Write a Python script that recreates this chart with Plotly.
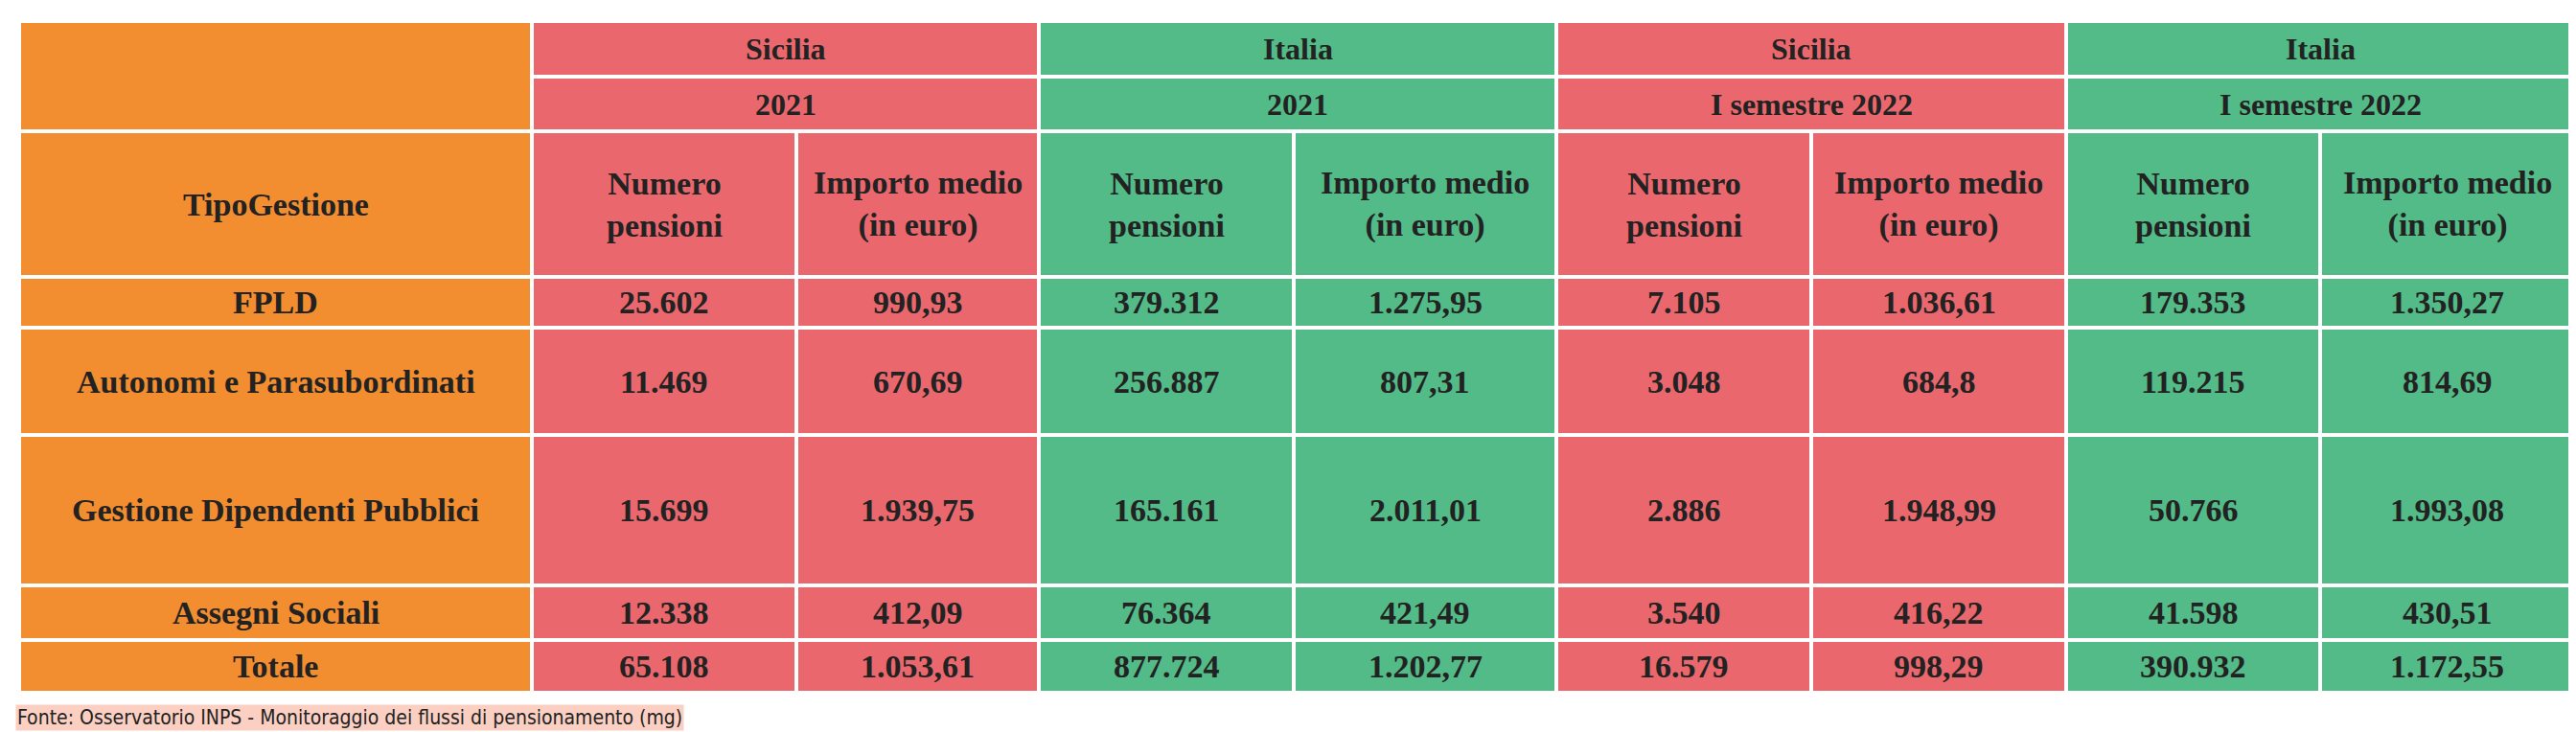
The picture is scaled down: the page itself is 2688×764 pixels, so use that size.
import plotly.graph_objects as go

categorie = ["FPLD", "Autonomi e Parasubordinati", "Gestione Dipendenti Pubblici", "Assegni Sociali", "Totale"]
aree = ["Sicilia", "Italia", "Sicilia", "Italia"]
periodi = ["2021", "2021", "I semestre 2022", "I semestre 2022"]
misure = ["Numero<br>pensioni", "Importo medio<br>(in euro)"]
sicilia_2021 = [["25.602", "990,93"], ["11.469", "670,69"], ["15.699", "1.939,75"], ["12.338", "412,09"], ["65.108", "1.053,61"]]
italia_2021 = [["379.312", "1.275,95"], ["256.887", "807,31"], ["165.161", "2.011,01"], ["76.364", "421,49"], ["877.724", "1.202,77"]]
sicilia_2022 = [["7.105", "1.036,61"], ["3.048", "684,8"], ["2.886", "1.948,99"], ["3.540", "416,22"], ["16.579", "998,29"]]
italia_2022 = [["179.353", "1.350,27"], ["119.215", "814,69"], ["50.766", "1.993,08"], ["41.598", "430,51"], ["390.932", "1.172,55"]]
fonte = "Fonte: Osservatorio INPS - Monitoraggio dei flussi di pensionamento (mg)"

# layout (pixels)
col_x = [12, 547, 823, 1076, 1342, 1616, 1882, 2148, 2413, 2678]
row_y = [14, 72, 129, 281, 334, 446, 603, 660, 715]
ORANGE, RED, GREEN = "#F28D30", "#EA686D", "#53BB87"
FONT = "Liberation Serif"

fig = go.Figure()
fig.add_trace(go.Scatter(x=[0, 2688], y=[0, 764], mode="markers", marker=dict(opacity=0), hoverinfo="skip"))

def cell(x0, x1, y0, y1, color, text, size=34):
    fig.add_shape(type="rect", x0=x0, x1=x1, y0=y0, y1=y1, fillcolor=color,
                  line=dict(color="white", width=4), layer="below")
    fig.add_annotation(x=(x0 + x1) / 2, y=(y0 + y1) / 2, text="<b>" + text + "</b>", showarrow=False,
                       font=dict(family=FONT, size=size, color="#222222"), xanchor="center", yanchor="middle")

cell(col_x[0], col_x[1], row_y[0], row_y[2], ORANGE, "")
cell(col_x[0], col_x[1], row_y[2], row_y[3], ORANGE, "TipoGestione")
dati = [sicilia_2021, italia_2021, sicilia_2022, italia_2022]
for g in range(4):
    c = RED if aree[g] == "Sicilia" else GREEN
    xa, xb, xc = col_x[1 + 2 * g], col_x[2 + 2 * g], col_x[3 + 2 * g]
    cell(xa, xc, row_y[0], row_y[1], c, aree[g], 32)
    cell(xa, xc, row_y[1], row_y[2], c, periodi[g], 32)
    cell(xa, xb, row_y[2], row_y[3], c, misure[0])
    cell(xb, xc, row_y[2], row_y[3], c, misure[1])
    for r in range(len(categorie)):
        cell(xa, xb, row_y[3 + r], row_y[4 + r], c, dati[g][r][0])
        cell(xb, xc, row_y[3 + r], row_y[4 + r], c, dati[g][r][1])
for r, cat in enumerate(categorie):
    cell(col_x[0], col_x[1], row_y[3 + r], row_y[4 + r], ORANGE, cat)

fig.add_annotation(x=8, y=741, text=fonte, showarrow=False, xanchor="left", yanchor="middle",
                   font=dict(family="DejaVu Sans Condensed", size=21, color="#222222"), bgcolor="#FBD0C2")

fig.update_xaxes(range=[0, 2688], visible=False, fixedrange=True)
fig.update_yaxes(range=[764, 0], visible=False, fixedrange=True)
fig.update_layout(width=2688, height=764, margin=dict(l=0, r=0, t=0, b=0),
                  plot_bgcolor="white", paper_bgcolor="white", showlegend=False)
fig.write_html("out.html")
